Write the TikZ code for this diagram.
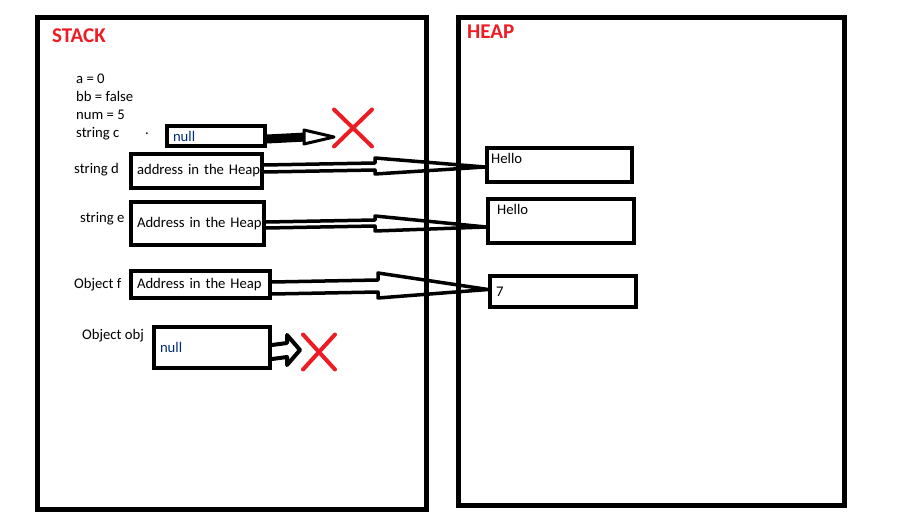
\documentclass[tikz,border=0pt]{standalone}
\usepackage{fontspec}
\setmainfont{Carlito}
\usetikzlibrary{shapes.misc}
\definecolor{paintred}{RGB}{237,28,36}
\definecolor{nullblue}{RGB}{0,45,120}
\tikzset{
    area/.style = {draw, line width=5pt, anchor=north west, inner sep=0pt},
    area-title/.style = {text=paintred, font=\fontsize{21}{25}\selectfont\bfseries, anchor=west, inner sep=0pt},
    var/.style = {font=\fontsize{14.7}{18}\selectfont, anchor=west, inner sep=0pt},
    cell/.style = {draw, line width=4pt, anchor=north west, inner xsep=6pt, inner ysep=0pt, align=left, font=\fontsize{14.7}{18}\selectfont},
    ref/.style = {line width=3.5pt, line join=round},
    nix/.style = {cross out, draw=paintred, line width=4pt, line cap=round, inner sep=0pt},
}

\begin{document}
\begin{tikzpicture}[x=1pt, y=-1pt]
\useasboundingbox (0,0) rectangle (902,529);

% the two memory areas
\node[area, minimum width=389, minimum height=492] (stack) at (35,15) {};
\node[area, minimum width=386, minimum height=488] (heap) at (456,15) {};
\node[area-title] (stack-title) at (52,36) {STACK};
\node[area-title] (heap-title) at (467,32) {HEAP};

% stack variables
\node[var, align=left, anchor=north west] (vars) at (76,74) {a = 0\\bb = false\\num = 5\\string c};
\node[var] (dot) at (145,134) {.};
\node[var] (name-d) at (74,170) {string d};
\node[var] (name-e) at (80,219) {string e};
\node[var] (name-f) at (74,285) {Object f};
\node[var] (name-obj) at (82,336) {Object obj};

\node[cell, text=nullblue, text width=86, minimum height=20] (c) at (165,124) {null};
\node[cell, text width=119, minimum height=34] (d) at (129,152) {\mbox{address in the Heap}};
\node[cell, text width=121, minimum height=43] (e) at (129,200) {\mbox{Address in the Heap}};
\node[cell, text width=127, minimum height=27] (f) at (129,269) {\mbox{Address in the Heap}};
\node[cell, text=nullblue, text width=104, minimum height=41] (obj) at (152,325) {null};

% heap objects
\node[cell, minimum width=145, minimum height=34] (h1) at (485,146) {};
\node[var, anchor=north west] (hello1) at (491,153) {Hello};
\node[cell, minimum width=146, minimum height=44] (h2) at (486,197) {};
\node[var, anchor=north west] (hello2) at (497,204) {Hello};
\node[cell, text width=134, minimum height=31] (h7) at (488,274) {7};

% nowhere
\node[nix, minimum width=34, minimum height=33] (nix-c) at (353,128) {};
\node[nix, minimum width=28, minimum height=31] (nix-obj) at (319,352) {};

% references
\draw[line width=9pt] ([yshift=-3pt]c.east) -- (306,137);
\draw[line width=3pt, line join=round, fill=white] (304,130) -- ([yshift=-9pt]nix-c.west) -- (304,144) -- cycle;

\draw[ref] ([yshift=6pt]d.east) -- (375,163) -- (375,158) -- ([yshift=-2pt]h1.west)
    -- (375,174) -- (375,170) -- ([yshift=-1pt]d.east);
\draw[ref] ([yshift=1.5pt]e.east) -- (375,220) -- (375,216) -- ([yshift=-6pt]h2.west)
    -- (375,231) -- (375,226) -- ([yshift=-4.5pt]e.east);
\draw[ref] ([yshift=2.5pt]f.east) -- (378,280) -- (378,273) -- ([yshift=2pt]h7.west)
    -- (378,298) -- (378,292) -- ([yshift=-9.5pt]f.east);

\draw[ref, line width=4pt] ([yshift=2.5pt]obj.east) -- (287,343) -- (287,335) -- (300,350)
    -- (287,365) -- (287,357) -- ([yshift=-11.5pt]obj.east);
\end{tikzpicture}
\end{document}
